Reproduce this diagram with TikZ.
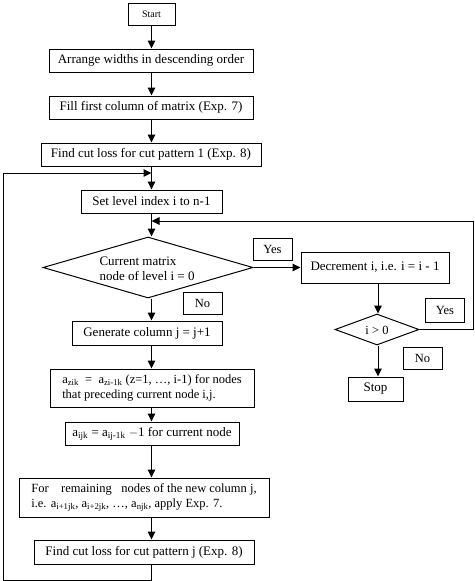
\documentclass[tikz,border=0pt]{standalone}
\usepackage{fontspec}
\setmainfont{Liberation Serif}
\usetikzlibrary{arrows.meta,shapes.geometric,calc}
\begin{document}
\begin{tikzpicture}[x=1pt,y=-1pt,
  every path/.style={line width=1pt},
  box/.style={draw, line width=1pt, minimum height=23pt, inner sep=2pt, font=\fontsize{13}{15}\selectfont},
  lbl/.style={draw, line width=1pt, minimum width=39pt, minimum height=22pt, inner sep=1pt, font=\fontsize{12.5}{14}\selectfont},
  diam/.style={diamond, draw, line width=1pt, inner sep=0pt},
  arr/.style={-{Triangle[length=8pt,width=7.5pt]}}]
\useasboundingbox (0,0) rectangle (474,581);
\coordinate (cx) at (151.5,0);
\coordinate (cr) at (378,0);
% main column
\node[box, minimum width=47pt, minimum height=22pt, font=\fontsize{10}{12}\selectfont] (start) at (151.5,14) {Start};
\node[box, minimum width=204pt] (arrange) at (151,60.5) {Arrange widths in descending order};
\node[box, minimum width=204pt] (fill) at (151,107.5) {Fill first column of matrix (Exp. 7)};
\node[box, minimum width=220pt] (cut1) at (151,154.5) {Find cut loss for cut pattern 1 (Exp. 8)};
\node[box, minimum width=141pt] (setl) at (151.5,201.5) {Set level index i to n-1};
\node[diam, minimum width=210pt, minimum height=61pt] (d1) at (148,267.5) {};
\node[align=left, anchor=west, inner sep=0pt, font=\fontsize{13}{15}\selectfont] (d1t) at (99,268.5) {Current matrix\\node of level i = 0};
\node[box, minimum width=150pt, minimum height=24pt] (gen) at (147,333) {Generate column j = j+1};
\node[box, minimum width=204pt, minimum height=38pt, align=left, font=\fontsize{12.5}{15}\selectfont] (azik) at (152,388)
  {a\textsubscript{zik}\ \ =\ \ a\textsubscript{zi-1k} (z=1, \dots, i-1) for nodes\\that preceding current node i,j.};
\node[box, minimum width=174pt] (aijk) at (152,433.5) {a\textsubscript{ijk} = a\textsubscript{ij-1k} $-$1 for current node};
\node[box, minimum width=250pt, minimum height=39pt, align=left, font=\fontsize{12.5}{15}\selectfont] (rem) at (144,497.5)
  {For\ \ \ \ remaining\ \ \ nodes of the new column j,\\i.e. a\textsubscript{i+1jk}, a\textsubscript{i+2jk}, \dots, a\textsubscript{njk}, apply Exp. 7.};
\node[box, minimum width=220pt, minimum height=24pt] (cutj) at (144,552) {Find cut loss for cut pattern j (Exp. 8)};
% right column
\node[box, minimum width=148pt, minimum height=31pt] (dec) at (375,267.5) {Decrement i, i.e. i = i - 1};
\node[diam, minimum width=84pt, minimum height=31pt] (d2) at (377,329.5) {};
\node[inner sep=0pt, font=\fontsize{12.5}{14}\selectfont] (d2t) at (377,330) {i > 0};
\node[box, minimum width=55pt, minimum height=24pt] (stop) at (375.5,389) {Stop};
% labels
\node[lbl] (yes1) at (272.5,249) {Yes};
\node[lbl] (no1) at (202.5,303) {No};
\node[lbl, minimum height=24pt] (yes2) at (445,310) {Yes};
\node[lbl] (no2) at (422.5,358) {No};
% connectors
\draw[arr] (start.south -| cx) -- (arrange.north -| cx);
\draw[arr] (arrange.south -| cx) -- (fill.north -| cx);
\draw[arr] (fill.south -| cx) -- (cut1.north -| cx);
\draw[arr] (cut1.south -| cx) -- (setl.north -| cx);
\draw[arr] (setl.south -| cx) -- (d1.north -| cx);
\draw[arr] (d1.east) -- (dec.west);
\draw[arr] (d1.south -| cx) -- (gen.north -| cx);
\draw[arr] (gen.south -| cx) -- (azik.north -| cx);
\draw[arr] (azik.south -| cx) -- (aijk.north -| cx);
\draw[arr] (aijk.south -| cx) -- (rem.north -| cx);
\draw[arr] (rem.south -| cx) -- (cutj.north -| cx);
\draw[arr] (dec.south -| cr) -- (d2.north -| cr);
\draw[arr] (d2.south -| cr) -- (stop.north -| cr);
% loops
\coordinate (lb) at (151.5,580);
\coordinate (ll) at (3,580);
\coordinate (lt) at (3,173);
\draw[arr] (cutj.south -| cx) -- (lb) -- (ll) -- (lt) -- (lt -| cx);
\coordinate (rr) at (473,221);
\draw[arr] (d2.east) -| (rr) -- (rr -| cx);
\end{tikzpicture}
\end{document}
